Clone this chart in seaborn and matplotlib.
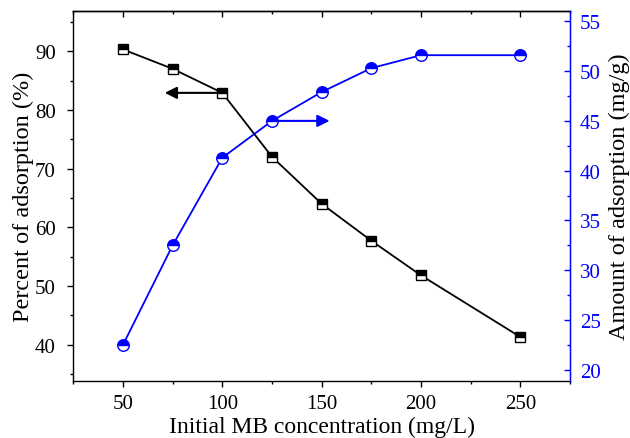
import matplotlib
matplotlib.use("Agg")
import matplotlib.pyplot as plt
import seaborn as sns
import pandas as pd
from matplotlib.ticker import MultipleLocator

concentration = [50, 75, 100, 125, 150, 175, 200, 250]
percent_adsorption = [90.3, 87.0, 82.9, 72.0, 64.0, 57.7, 51.8, 41.3]
amount_adsorption = [22.5, 32.5, 41.3, 45.0, 47.9, 50.3, 51.6, 51.6]

df = pd.DataFrame({"conc": concentration, "pct": percent_adsorption, "amt": amount_adsorption})

sns.set_style("ticks")
plt.rcParams["font.family"] = ["Liberation Serif", "DejaVu Serif"]
plt.rcParams["text.color"] = "black"
plt.rcParams["axes.labelcolor"] = "black"
plt.rcParams["xtick.color"] = "black"
plt.rcParams["ytick.color"] = "black"
plt.rcParams["axes.edgecolor"] = "black"

fig = plt.figure(figsize=(6.3, 4.39), dpi=100)
ax = fig.add_axes([73.3 / 630, 1 - 382 / 439, (570 - 73.3) / 630, (382 - 11.7) / 439])
ax2 = ax.twinx()

blue = "#0000ff"
sns.lineplot(data=df, x="conc", y="pct", ax=ax, color="black", lw=1.3,
             marker="s", markersize=7.5, fillstyle="top", markerfacecoloralt="white",
             markeredgecolor="black", markeredgewidth=1.0)
sns.lineplot(data=df, x="conc", y="amt", ax=ax2, color=blue, lw=1.3,
             marker="o", markersize=8.3, fillstyle="top", markerfacecoloralt="white",
             markeredgecolor=blue, markeredgewidth=1.0)

ax.set_xlim(25, 275)
ax.set_ylim(33.8, 96.9)
ax2.set_ylim(18.87, 56.07)

ax.set_xticks([50, 100, 150, 200, 250])
ax.xaxis.set_minor_locator(MultipleLocator(25))
ax.set_yticks([40, 50, 60, 70, 80, 90])
ax.yaxis.set_minor_locator(MultipleLocator(5))
ax2.set_yticks([20, 25, 30, 35, 40, 45, 50, 55])
ax2.yaxis.set_minor_locator(MultipleLocator(2.5))

ax.tick_params(axis="x", which="major", direction="out", length=4.5, width=1.0, labelsize=15, pad=5, colors="black")
ax.tick_params(axis="y", which="major", direction="out", length=4.5, width=1.0, labelsize=15, pad=8, colors="black")
ax.tick_params(axis="both", which="minor", direction="out", length=2.5, width=1.0, colors="black")
ax2.tick_params(axis="y", which="major", direction="in", length=4.5, width=1.0, labelsize=15, colors=blue, pad=7)
ax2.tick_params(axis="y", which="minor", direction="in", length=2.5, width=1.0, colors=blue)

top = ax.secondary_xaxis("top")
top.set_xticks([50, 100, 150, 200, 250])
top.xaxis.set_minor_locator(MultipleLocator(25))
top.tick_params(which="major", direction="in", length=4.5, width=1.0, labeltop=False, colors="black")
top.tick_params(which="minor", direction="in", length=2.5, width=1.0, colors="black")
top.set_xticklabels([])

for s in ["left", "bottom", "top"]:
    ax.spines[s].set_linewidth(1.0)
    ax.spines[s].set_color("black")
ax2.spines["right"].set_color(blue)
ax2.spines["right"].set_linewidth(1.0)
ax2.spines["left"].set_visible(False)
ax2.spines["top"].set_visible(False)
ax2.spines["bottom"].set_visible(False)
top.spines["top"].set_linewidth(1.0)
top.spines["top"].set_color("black")

ax.set_xlabel("Initial MB concentration (mg/L)", fontsize=17, labelpad=2, color="black")
ax.set_ylabel("Percent of adsorption (%)", fontsize=17.5, labelpad=1, color="black")
ax2.set_ylabel("Amount of adsorption (mg/g)", fontsize=17.5, labelpad=6, color="black")

ax.annotate("", xy=(71, 82.9), xytext=(100, 82.9),
            arrowprops=dict(arrowstyle="-|>", color="black", lw=1.5, mutation_scale=18,
                            shrinkA=0, shrinkB=0))
ax2.annotate("", xy=(154, 45.0), xytext=(125, 45.0),
             arrowprops=dict(arrowstyle="-|>", color=blue, lw=1.5, mutation_scale=18,
                             shrinkA=0, shrinkB=0))

fig.savefig("out.png", dpi=100)
